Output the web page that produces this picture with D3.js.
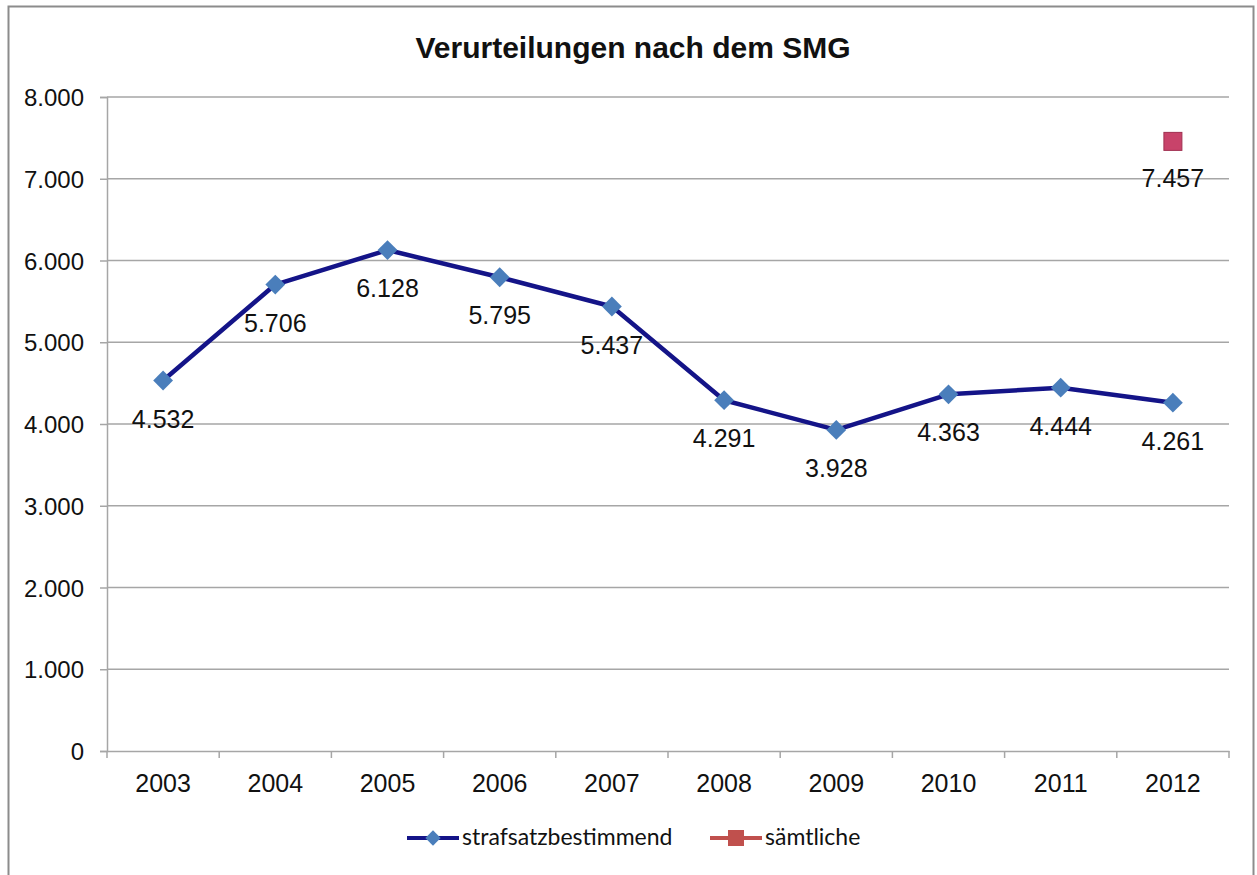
<!DOCTYPE html>
<html>
<head>
<meta charset="utf-8">
<script src="https://cdnjs.cloudflare.com/ajax/libs/d3/7.8.5/d3.min.js"></script>
<style>
  body { margin: 0; background: #fff; }
  svg text { font-family: "Liberation Sans", Arial, sans-serif; fill: #111; }
</style>
</head>
<body>
<div id="chart"></div>
<script>
var years = ["2003", "2004", "2005", "2006", "2007", "2008", "2009", "2010", "2011", "2012"];
var strafsatz = [4532, 5706, 6128, 5795, 5437, 4291, 3928, 4363, 4444, 4261];
var saemtliche = [null, null, null, null, null, null, null, null, null, 7457];
var yTicks = [0, 1000, 2000, 3000, 4000, 5000, 6000, 7000, 8000];
var seriesNames = ["strafsatzbestimmend", "sämtliche"];

var width = 1257, height = 875;
var de = d3.formatLocale({decimal: ",", thousands: ".", grouping: [3], currency: ["", " €"]});
var fmt = de.format(",d");

var svg = d3.select("#chart")
    .append("svg")
    .attr("width", width)
    .attr("height", height)

// outer frame
svg.append("rect")
    .attr("x", 8.5).attr("y", 6.5)
    .attr("width", 1245).attr("height", 875)
    .attr("fill", "none")
    .attr("stroke", "#8c8c8c")
    .attr("stroke-width", 2)

svg.append("text")
    .attr("x", 633).attr("y", 58)
    .attr("text-anchor", "middle")
    .style("font-size", "30px")
    .style("font-weight", "bold")
    .text("Verurteilungen nach dem SMG")

var x = d3.scaleBand().domain(years).range([107, 1229]);
var y = d3.scaleLinear().domain([0, 8000]).range([751, 97]);

// gridlines
svg.append("g")
    .selectAll("line")
    .data(yTicks.filter(function(d){ return d > 0; }))
    .enter()
    .append("line")
    .attr("x1", 107).attr("x2", 1229)
    .attr("y1", function(d){ return y(d); })
    .attr("y2", function(d){ return y(d); })
    .attr("stroke", "#a6a6a6")
    .attr("stroke-width", 1.5)

var yAxis = svg.append("g")
    .attr("transform", "translate(107,0)")
    .call(d3.axisLeft(y).tickValues(yTicks).tickFormat(fmt).tickSize(7).tickPadding(16));
yAxis.selectAll("text").style("font-size", "24px").attr("dy", "0.36em");

var xAxis = svg.append("g")
    .attr("transform", "translate(0,751)")
    .call(d3.axisBottom(x).tickSize(0).tickPadding(23));
xAxis.selectAll("text").style("font-size", "25px");

// category separator ticks
xAxis.selectAll(".sep")
    .data(years.concat(["end"]))
    .enter()
    .append("line")
    .attr("x1", function(d, i){ return 107 + i * x.step(); })
    .attr("x2", function(d, i){ return 107 + i * x.step(); })
    .attr("y1", 0).attr("y2", 7)
    .attr("stroke", "#a6a6a6")
    .attr("stroke-width", 1.5)

svg.selectAll(".domain, .tick line").attr("stroke", "#a6a6a6").attr("stroke-width", 1.5);

var cx = function(i){ return x(years[i]) + x.bandwidth() / 2; };

// main line
var line = d3.line()
    .x(function(d, i){ return cx(i); })
    .y(function(d){ return y(d); });

svg.append("path")
    .datum(strafsatz)
    .attr("d", line)
    .attr("fill", "none")
    .attr("stroke", "#141488")
    .attr("stroke-width", 4.5)
    .attr("stroke-linejoin", "round")

var diamond = d3.symbol().type(d3.symbolDiamond2).size(250);

svg.append("g")
    .selectAll("path")
    .data(strafsatz)
    .enter()
    .append("path")
    .attr("d", diamond)
    .attr("transform", function(d, i){ return "translate(" + cx(i) + "," + y(d) + ")"; })
    .attr("fill", "#4a7ebb")

svg.append("g")
    .selectAll("text")
    .data(strafsatz)
    .enter()
    .append("text")
    .attr("x", function(d, i){ return cx(i); })
    .attr("y", function(d){ return y(d) + 47; })
    .attr("text-anchor", "middle")
    .style("font-size", "25px")
    .text(function(d){ return fmt(d); })

// second series
var pts2 = saemtliche.map(function(v, i){ return {v: v, i: i}; }).filter(function(d){ return d.v != null; });

svg.append("g")
    .selectAll("rect")
    .data(pts2)
    .enter()
    .append("rect")
    .attr("x", function(d){ return cx(d.i) - 9; })
    .attr("y", function(d){ return y(d.v) - 9; })
    .attr("width", 18).attr("height", 18)
    .attr("fill", "#c8436a")
    .attr("stroke", "#a03050")
    .attr("stroke-width", 1)

svg.append("g")
    .selectAll("text")
    .data(pts2)
    .enter()
    .append("text")
    .attr("x", function(d){ return cx(d.i); })
    .attr("y", function(d){ return y(d.v) + 46; })
    .attr("text-anchor", "middle")
    .style("font-size", "25px")
    .text(function(d){ return fmt(d.v); })

// legend
var legend = svg.append("g").attr("transform", "translate(0,838)");
var lx = [407, 710];
var lcol = ["#141488", "#c0504d"];

lx.forEach(function(x0, k) {
    legend.append("line")
        .attr("x1", x0).attr("x2", x0 + 52)
        .attr("y1", 0).attr("y2", 0)
        .attr("stroke", lcol[k])
        .attr("stroke-width", 4)
    if (k == 0) {
        legend.append("path")
            .attr("d", d3.symbol().type(d3.symbolDiamond2).size(150))
            .attr("transform", "translate(" + (x0 + 26) + ",0)")
            .attr("fill", "#4a7ebb")
    } else {
        legend.append("rect")
            .attr("x", x0 + 26 - 8).attr("y", -8)
            .attr("width", 16).attr("height", 16)
            .attr("fill", "#c0504d")
    }
    legend.append("text")
        .attr("x", x0 + 55).attr("y", 7)
        .style("font-family", "Lato, 'Open Sans', sans-serif")
        .style("font-size", "23px")
        .text(seriesNames[k])
});
</script>
</body>
</html>
